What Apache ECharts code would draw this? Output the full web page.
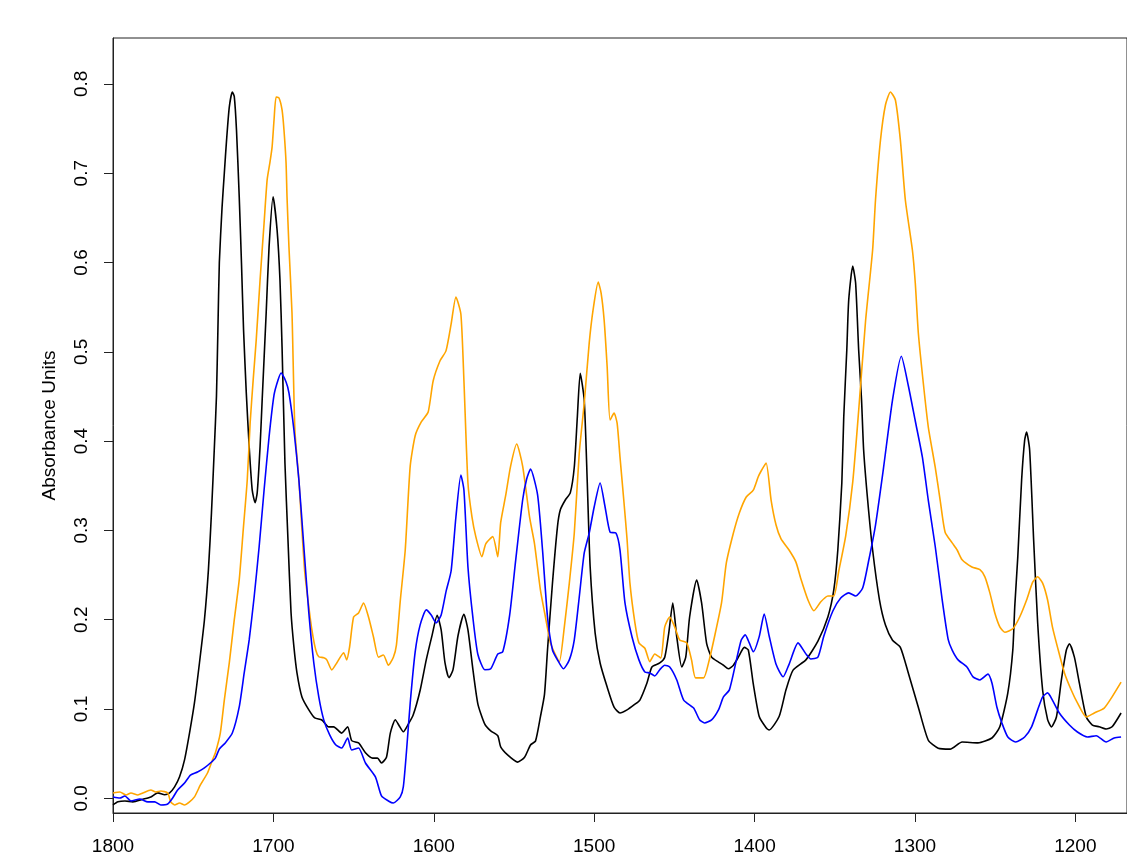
<!DOCTYPE html>
<html>
<head>
<meta charset="utf-8">
<script src="https://cdn.jsdelivr.net/npm/echarts@6/dist/echarts.min.js"></script>
<style>
html,body{margin:0;padding:0;background:#fff;}
#chart{width:1127px;height:865px;}
</style>
</head>
<body>
<div id="chart"></div>
<script>
// Tick labels
const xTicks = [1800, 1700, 1600, 1500, 1400, 1300, 1200];
const yTicks = [0, 0.1, 0.2, 0.3, 0.4, 0.5, 0.6, 0.7, 0.8];
const yTitle = 'Absorbance Units';

// Black spectrum [wavenumber, absorbance]
const blackSpectrum = [
[1800,-0.0075],[1796.9,-0.004],[1792.6,-0.003],[1787.6,-0.004],[1781.4,-0.001],[1776.4,0.0015],[1772.1,0.006],[1767.8,0.004],[1764.7,0.006],[1761.6,0.0127],[1758.5,0.024],[1755.4,0.043],[1752.3,0.073],[1749.2,0.107],[1746.1,0.1515],[1743.0,0.1996],[1740.5,0.256],[1738.6,0.320],[1736.8,0.393],[1735.5,0.450],[1734.6,0.5245],[1733.7,0.600],[1732.0,0.662],[1730.6,0.700],[1729.2,0.737],[1727.5,0.774],[1725.6,0.791],[1724.4,0.786],[1723.0,0.748],[1721.3,0.6735],[1719.9,0.5995],[1718.6,0.5245],[1716.9,0.454],[1715.1,0.394],[1713.2,0.345],[1711.4,0.331],[1710.1,0.342],[1708.3,0.394],[1707.0,0.446],[1704.5,0.5435],[1702.7,0.6175],[1700.2,0.6735],[1697.7,0.6365],[1695.9,0.5805],[1694.6,0.5055],[1692.8,0.3755],[1690.9,0.289],[1689.0,0.208],[1687.2,0.1695],[1685.3,0.1405],[1682.2,0.1135],[1677.9,0.099],[1674.2,0.090],[1669.8,0.0877],[1665.5,0.080],[1662.4,0.080],[1657.4,0.073],[1653.7,0.080],[1651.2,0.0645],[1646.9,0.062],[1642.6,0.051],[1638.2,0.045],[1635.1,0.045],[1632.6,0.0395],[1629.5,0.046],[1627.1,0.073],[1624.0,0.088],[1621.5,0.081],[1619.0,0.0745],[1615.9,0.083],[1612.8,0.0935],[1608.5,0.121],[1604.7,0.155],[1601.0,0.183],[1597.9,0.205],[1595.4,0.1885],[1593.0,0.1515],[1590.5,0.135],[1588.0,0.144],[1584.9,0.182],[1581.2,0.206],[1578.7,0.1885],[1575.6,0.144],[1572.5,0.1055],[1568.2,0.083],[1564.5,0.0755],[1560.1,0.070],[1558.3,0.0575],[1554.0,0.0485],[1547.7,0.0405],[1543.4,0.046],[1539.7,0.0597],[1536.6,0.064],[1533.5,0.0915],[1531.0,0.116],[1529.1,0.166],[1526.0,0.241],[1522.9,0.304],[1521.1,0.323],[1518.0,0.334],[1514.9,0.342],[1512.4,0.371],[1510.5,0.427],[1508.7,0.476],[1506.2,0.446],[1504.3,0.353],[1502.5,0.259],[1499.4,0.185],[1496.3,0.1515],[1491.9,0.1245],[1487.6,0.102],[1483.9,0.0955],[1479.5,0.099],[1475.2,0.1045],[1471.5,0.110],[1467.1,0.129],[1464.0,0.147],[1459.1,0.1515],[1456.0,0.158],[1453.5,0.185],[1451.0,0.2185],[1448.5,0.1805],[1445.4,0.147],[1442.9,0.158],[1440.5,0.203],[1436.1,0.2445],[1433.0,0.2185],[1429.9,0.1735],[1426.8,0.158],[1422.5,0.1525],[1419.4,0.149],[1416.3,0.145],[1413.2,0.149],[1410.1,0.158],[1406.4,0.169],[1403.9,0.166],[1400.8,0.128],[1397.1,0.0915],[1392.8,0.079],[1390.9,0.0765],[1384.7,0.0915],[1380.4,0.1215],[1376.0,0.1435],[1368.0,0.155],[1360.5,0.176],[1354.3,0.203],[1350.6,0.2333],[1348.1,0.278],[1345.6,0.353],[1344.4,0.427],[1342.5,0.502],[1341.3,0.558],[1338.8,0.596],[1337.0,0.577],[1335.1,0.502],[1333.3,0.446],[1332.0,0.390],[1329.5,0.334],[1326.4,0.278],[1322.1,0.222],[1318.4,0.194],[1314.0,0.177],[1309.1,0.169],[1304.1,0.140],[1297.9,0.102],[1291.7,0.065],[1285.5,0.056],[1278.1,0.055],[1270.6,0.063],[1260.7,0.062],[1252.0,0.0675],[1247.1,0.080],[1242.1,0.118],[1239.0,0.166],[1237.8,0.214],[1235.9,0.270],[1233.5,0.3565],[1231.6,0.401],[1230.4,0.410],[1228.5,0.390],[1226.0,0.289],[1223.5,0.1965],[1220.4,0.121],[1217.3,0.088],[1214.9,0.080],[1211.8,0.091],[1208.7,0.1325],[1205.6,0.166],[1203.7,0.173],[1200.6,0.158],[1197.5,0.129],[1193.2,0.091],[1189.4,0.082],[1185.1,0.080],[1180.8,0.0775],[1177.1,0.080],[1171.5,0.0955]
];

// Orange spectrum [wavenumber, absorbance]
const orangeSpectrum = [
[1800,0.0059],[1795.7,0.0071],[1791.9,0.0037],[1788.8,0.0059],[1784.5,0.0037],[1781.4,0.0059],[1776.4,0.0093],[1773.3,0.0071],[1770.2,0.0082],[1765.9,0.0059],[1764.0,-0.004],[1761.6,-0.0075],[1758.5,-0.0053],[1755.4,-0.0075],[1752.3,-0.004],[1749.2,0.0015],[1745.5,0.0149],[1741.1,0.0283],[1738.0,0.0429],[1736.2,0.0507],[1733.1,0.073],[1730.6,0.110],[1727.5,0.1516],[1724.4,0.1997],[1721.3,0.2445],[1718.8,0.3005],[1716.3,0.3564],[1714.5,0.4203],[1712.6,0.4685],[1710.7,0.5133],[1708.3,0.5805],[1705.8,0.6443],[1703.9,0.6925],[1702.1,0.7126],[1700.8,0.7294],[1699.6,0.7596],[1698.3,0.7853],[1696.5,0.7842],[1694.6,0.7708],[1693.4,0.7484],[1692.1,0.7115],[1691.5,0.6734],[1690.3,0.6174],[1688.4,0.5435],[1686.6,0.4125],[1684.1,0.3564],[1682.2,0.3005],[1680.4,0.2523],[1677.9,0.2142],[1676.0,0.1885],[1673.6,0.166],[1671.7,0.1585],[1668.6,0.1574],[1666.7,0.155],[1663.6,0.1437],[1660.5,0.1515],[1656.2,0.163],[1654.3,0.155],[1652.5,0.1694],[1650.0,0.203],[1646.9,0.2075],[1643.8,0.2187],[1640.7,0.203],[1637.6,0.1806],[1634.5,0.158],[1631.4,0.1605],[1628.3,0.149],[1625.2,0.158],[1623.3,0.1716],[1620.9,0.221],[1617.8,0.278],[1614.7,0.372],[1611.6,0.406],[1607.8,0.4214],[1603.5,0.4326],[1600.4,0.4673],[1596.1,0.490],[1592.4,0.501],[1589.2,0.531],[1586.2,0.5614],[1583.1,0.542],[1581.2,0.4673],[1578.7,0.353],[1576.2,0.315],[1573.8,0.293],[1570.0,0.2705],[1567.6,0.285],[1563.2,0.293],[1560.1,0.2705],[1558.3,0.3086],[1555.2,0.3388],[1552.1,0.372],[1548.3,0.3967],[1544.6,0.372],[1540.3,0.315],[1537.2,0.285],[1533.5,0.233],[1530.4,0.203],[1527.3,0.174],[1524.2,0.161],[1521.7,0.153],[1518.6,0.192],[1515.5,0.241],[1512.4,0.297],[1509.3,0.3866],[1506.2,0.4426],[1503.1,0.5097],[1500.6,0.548],[1497.5,0.578],[1495.7,0.566],[1493.8,0.5357],[1491.9,0.483],[1490.1,0.4236],[1487.6,0.4314],[1485.7,0.420],[1483.9,0.382],[1481.4,0.331],[1479.5,0.290],[1477.7,0.241],[1474.6,0.1965],[1472.1,0.174],[1468.4,0.168],[1465.3,0.153],[1462.2,0.1616],[1458.5,0.157],[1456.0,0.192],[1452.9,0.203],[1449.8,0.192],[1446.7,0.1773],[1442.3,0.174],[1439.3,0.155],[1436.8,0.1348],[1431.8,0.1348],[1428.7,0.1516],[1425.0,0.1806],[1420.6,0.2187],[1417.6,0.2635],[1413.2,0.297],[1409.5,0.3195],[1405.2,0.3374],[1400.8,0.345],[1397.7,0.360],[1395.9,0.3665],[1392.8,0.3755],[1389.7,0.334],[1386.6,0.306],[1383.5,0.2904],[1378.5,0.278],[1374.2,0.2645],[1371.1,0.2455],[1366.7,0.222],[1363.0,0.210],[1358.7,0.220],[1354.3,0.2265],[1350.6,0.2265],[1347.5,0.2545],[1343.2,0.2937],[1338.8,0.354],[1335.1,0.434],[1330.8,0.5345],[1326.4,0.614],[1324.6,0.670],[1321.5,0.737],[1318.4,0.7764],[1315.3,0.791],[1312.2,0.782],[1309.1,0.737],[1306.0,0.670],[1301.6,0.614],[1299.8,0.577],[1297.9,0.521],[1294.8,0.465],[1291.7,0.416],[1287.4,0.371],[1284.3,0.334],[1281.2,0.298],[1276.8,0.286],[1273.7,0.278],[1270.6,0.267],[1264.5,0.259],[1259.5,0.256],[1256.4,0.248],[1253.3,0.230],[1250.2,0.2075],[1247.1,0.192],[1244.0,0.186],[1239.0,0.1898],[1234.7,0.203],[1230.4,0.222],[1226.6,0.242],[1223.5,0.248],[1220.4,0.241],[1217.3,0.222],[1214.3,0.192],[1211.1,0.169],[1206.8,0.1404],[1202.5,0.121],[1198.7,0.1068],[1193.2,0.091],[1188.2,0.0955],[1182.0,0.101],[1177.1,0.1135],[1171.5,0.130]
];

// Blue spectrum [wavenumber, absorbance]
const blueSpectrum = [
[1800,0.0015],[1795.7,0.0003],[1792.6,0.0026],[1788.8,-0.003],[1783.3,-0.0008],[1778.3,-0.004],[1774.0,-0.004],[1770.2,-0.0075],[1765.9,-0.0064],[1762.8,0.0003],[1759.7,0.0093],[1755.4,0.0171],[1751.7,0.026],[1747.3,0.0295],[1743.0,0.034],[1739.3,0.0395],[1736.2,0.045],[1733.7,0.0552],[1730.0,0.062],[1725.6,0.073],[1721.3,0.1023],[1718.2,0.1403],[1715.1,0.1773],[1712.0,0.2254],[1708.9,0.2814],[1705.8,0.3452],[1702.7,0.4046],[1699.6,0.4517],[1697.1,0.4685],[1695.2,0.4763],[1692.1,0.4662],[1690.3,0.454],[1687.2,0.4124],[1684.1,0.3564],[1681.0,0.2814],[1677.9,0.2075],[1674.8,0.1515],[1671.7,0.1135],[1668.6,0.0878],[1664.9,0.071],[1661.2,0.060],[1657.4,0.0563],[1653.7,0.0675],[1651.2,0.054],[1646.9,0.0563],[1642.6,0.0395],[1636.4,0.024],[1632.6,0.0026],[1628.3,-0.003],[1625.2,-0.0053],[1620.9,0.0015],[1619.0,0.0127],[1617.1,0.0507],[1614.7,0.1067],[1611.6,0.164],[1608.5,0.1942],[1604.7,0.211],[1601.6,0.2053],[1598.5,0.1965],[1595.4,0.2053],[1592.3,0.232],[1589.2,0.2545],[1586.2,0.315],[1583.1,0.362],[1581.2,0.345],[1578.7,0.259],[1575.6,0.202],[1572.5,0.161],[1568.2,0.144],[1564.5,0.145],[1560.1,0.1615],[1557.0,0.164],[1552.7,0.205],[1549.0,0.2655],[1544.6,0.334],[1542.1,0.3575],[1539.7,0.3687],[1535.3,0.340],[1532.2,0.278],[1529.1,0.203],[1526.0,0.166],[1522.9,0.155],[1519.2,0.145],[1515.5,0.155],[1512.4,0.1775],[1509.3,0.2254],[1506.2,0.2747],[1503.1,0.297],[1500.0,0.3262],[1496.3,0.353],[1493.2,0.3262],[1490.1,0.298],[1486.4,0.297],[1483.9,0.278],[1480.8,0.2187],[1476.4,0.1806],[1472.1,0.155],[1468.4,0.1415],[1465.3,0.1404],[1462.2,0.137],[1459.1,0.144],[1456.0,0.149],[1452.9,0.147],[1448.5,0.1325],[1444.2,0.110],[1438.0,0.101],[1434.3,0.088],[1431.2,0.0843],[1426.8,0.0878],[1422.5,0.099],[1419.4,0.1135],[1415.7,0.1214],[1411.3,0.155],[1408.3,0.1773],[1405.8,0.183],[1403.3,0.174],[1400.8,0.164],[1397.1,0.181],[1394.0,0.2064],[1390.9,0.1817],[1386.6,0.150],[1382.2,0.136],[1378.5,0.150],[1372.9,0.174],[1368.0,0.1617],[1364.9,0.156],[1360.5,0.158],[1356.8,0.1817],[1351.2,0.2097],[1346.3,0.2243],[1341.3,0.230],[1337.0,0.2265],[1332.6,0.2355],[1328.9,0.2657],[1324.6,0.306],[1319.6,0.370],[1314.0,0.446],[1308.5,0.495],[1304.1,0.4617],[1299.8,0.4225],[1295.4,0.3822],[1291.7,0.334],[1287.4,0.2825],[1283.0,0.222],[1279.3,0.178],[1276.8,0.166],[1273.1,0.155],[1267.6,0.147],[1263.8,0.136],[1259.5,0.1325],[1254.5,0.139],[1252.0,0.129],[1248.9,0.102],[1245.8,0.0843],[1242.1,0.0686],[1237.2,0.063],[1231.6,0.0686],[1227.3,0.080],[1223.5,0.099],[1220.4,0.1135],[1217.3,0.118],[1214.3,0.110],[1210.0,0.0955],[1203.7,0.082],[1198.7,0.0742],[1192.5,0.0686],[1187.0,0.070],[1180.8,0.063],[1175.8,0.0675],[1171.5,0.0686]
];

const FONT = '"Liberation Sans", Arial, Helvetica, sans-serif';

const chart = echarts.init(document.getElementById('chart'), null, {renderer: 'canvas'});

function mkSeries(name, data, color) {
  return {
    name: name,
    type: 'line',
    data: data,
    showSymbol: false,
    symbol: 'none',
    smooth: 0.2,
    lineStyle: {color: color, width: 1.6},
    itemStyle: {color: color},
    emphasis: {disabled: true},
    z: 3
  };
}

chart.setOption({
  animation: false,
  backgroundColor: '#ffffff',
  grid: {
    left: 113, top: 38, right: -6, bottom: 52,
    show: true, borderColor: '#222', borderWidth: 1, backgroundColor: 'transparent'
  },
  xAxis: {
    type: 'value',
    inverse: true,
    min: 1167.8,
    max: 1800,
    axisLine: {show: true, onZero: false, lineStyle: {color: '#222', width: 1}},
    axisTick: {show: true, inside: false, length: 9, customValues: xTicks, lineStyle: {color: '#222', width: 1}},
    axisLabel: {show: true, customValues: xTicks, margin: 24, color: '#000', fontSize: 19, fontFamily: FONT,
      formatter: v => String(v)},
    splitLine: {show: false}
  },
  yAxis: {
    type: 'value',
    min: -0.0165,
    max: 0.8514,
    name: yTitle,
    nameLocation: 'middle',
    nameRotate: 90,
    nameGap: 54,
    nameTextStyle: {color: '#000', fontSize: 19, fontFamily: FONT},
    axisLine: {show: true, onZero: false, lineStyle: {color: '#222', width: 1}},
    axisTick: {show: true, inside: false, length: 9, customValues: yTicks, lineStyle: {color: '#222', width: 1}},
    axisLabel: {show: true, customValues: yTicks, rotate: 90, margin: 22, color: '#000', fontSize: 19, fontFamily: FONT,
      formatter: v => v.toFixed(1)},
    splitLine: {show: false}
  },
  series: [
    mkSeries('black', blackSpectrum, '#000000'),
    mkSeries('orange', orangeSpectrum, '#FFA500'),
    mkSeries('blue', blueSpectrum, '#0000FF')
  ]
});
</script>
</body>
</html>
